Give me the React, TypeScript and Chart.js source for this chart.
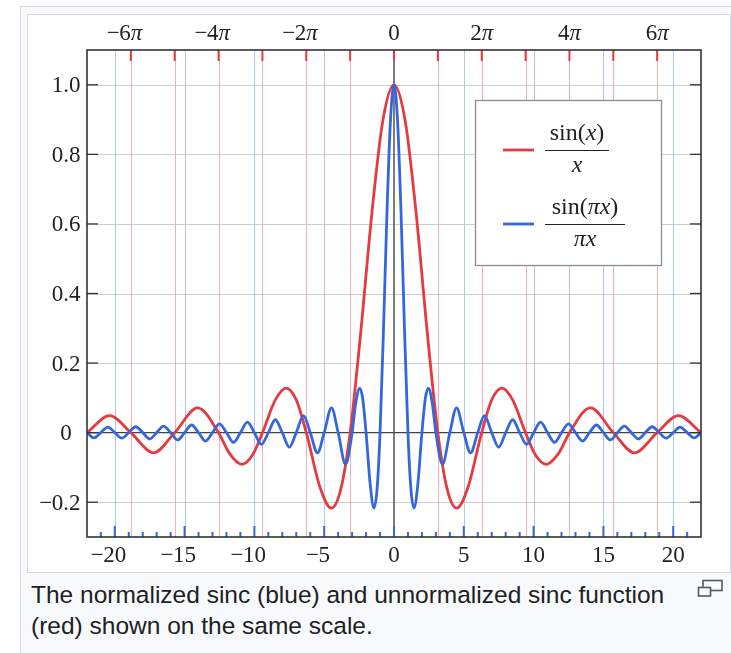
import React, { useEffect, useRef } from 'react';
import { Chart, registerables } from 'chart.js';

Chart.register(...registerables);

const X_MIN = -21.99;
const X_MAX = 21.99;
const Y_MIN = -0.3;
const Y_MAX = 1.1;

// unnormalized sinc: sin(x)/x
const redX = [-21.99, -20.37, -18.85, -17.22, -15.71, -14.07, -12.57, -11.8, -10.9, -10.1, -9.42, -8.5, -7.73, -7.0, -6.28, -5.3, -4.49, -3.8, -3.14, -2.4, -1.57, -0.8, 0, 0.8, 1.57, 2.4, 3.14, 3.8, 4.49, 5.3, 6.28, 7.0, 7.73, 8.5, 9.42, 10.1, 10.9, 11.8, 12.57, 14.07, 15.71, 17.22, 18.85, 20.37, 21.99];
const redY = [0, 0.049, 0, -0.058, 0, 0.071, 0, -0.059, -0.091, -0.062, 0, 0.094, 0.128, 0.094, 0, -0.157, -0.217, -0.161, 0, 0.281, 0.637, 0.897, 1, 0.897, 0.637, 0.281, 0, -0.161, -0.217, -0.157, 0, 0.094, 0.128, 0.094, 0, -0.062, -0.091, -0.059, 0, 0.071, 0, -0.058, 0, 0.049, 0];

// normalized sinc: sin(pi x)/(pi x)
const blueX = [-21.99, -21.5, -21, -20.5, -20, -19.5, -19, -18.5, -18, -17.5, -17, -16.5, -16, -15.5, -15, -14.5, -14, -13.5, -13, -12.5, -12, -11.5, -11, -10.5, -10, -9.5, -9, -8.5, -8, -7.5, -7, -6.48, -6, -5.48, -5, -4.48, -4, -3.47, -3, -2.75, -2.46, -2.25, -2, -1.7, -1.43, -1.2, -1, -0.75, -0.5, -0.25, 0, 0.25, 0.5, 0.75, 1, 1.2, 1.43, 1.7, 2, 2.25, 2.46, 2.75, 3, 3.47, 4, 4.48, 5, 5.48, 6, 6.48, 7, 7.5, 8, 8.5, 9, 9.5, 10, 10.5, 11, 11.5, 12, 12.5, 13, 13.5, 14, 14.5, 15, 15.5, 16, 16.5, 17, 17.5, 18, 18.5, 19, 19.5, 20, 20.5, 21, 21.5, 21.99];
const blueY = [0, -0.015, 0, 0.016, 0, -0.016, 0, 0.017, 0, -0.018, 0, 0.019, 0, -0.021, 0, 0.022, 0, -0.024, 0, 0.025, 0, -0.028, 0, 0.030, 0, -0.034, 0, 0.037, 0, -0.042, 0, 0.049, 0, -0.058, 0, 0.071, 0, -0.091, 0, 0.082, 0.128, 0.100, 0, -0.151, -0.217, -0.156, 0, 0.300, 0.637, 0.900, 1, 0.900, 0.637, 0.300, 0, -0.156, -0.217, -0.151, 0, 0.100, 0.128, 0.082, 0, -0.091, 0, 0.071, 0, -0.058, 0, 0.049, 0, -0.042, 0, 0.037, 0, -0.034, 0, 0.030, 0, -0.028, 0, 0.025, 0, -0.024, 0, 0.022, 0, -0.021, 0, 0.019, 0, -0.018, 0, 0.017, 0, -0.016, 0, 0.016, 0, -0.015, 0];

const yTickValues = [-0.2, 0, 0.2, 0.4, 0.6, 0.8, 1.0];
const yTickLabels = ['−0.2', '0', '0.2', '0.4', '0.6', '0.8', '1.0'];
const xTickValues = [-20, -15, -10, -5, 0, 5, 10, 15, 20];
const xTickLabels = ['−20', '−15', '−10', '−5', '0', '5', '10', '15', '20'];
const piTickMultiples = [-6, -4, -2, 0, 2, 4, 6];
const piTickLabels = ['−6π', '−4π', '−2π', '0', '2π', '4π', '6π'];
const blueGridValues = [-20, -15, -10, -5, 5, 10, 15, 20];
const redGridMultiples = [-6, -5, -4, -3, -2, -1, 1, 2, 3, 4, 5, 6];

const RED = '#e53a40';
const BLUE = '#3567dc';
const SERIF = '"Liberation Serif", "Times New Roman", serif';
const FS = 23;
const LFS = 24;

type Run = { t: string; i?: boolean };

function runsWidth(ctx: CanvasRenderingContext2D, runs: Run[], size: number) {
  let w = 0;
  for (const r of runs) {
    ctx.font = `${r.i ? 'italic ' : ''}${size}px ${SERIF}`;
    w += ctx.measureText(r.t).width;
  }
  return w;
}

function drawRuns(ctx: CanvasRenderingContext2D, runs: Run[], x: number, y: number, size: number) {
  ctx.textAlign = 'left';
  ctx.textBaseline = 'alphabetic';
  let cx = x;
  for (const r of runs) {
    ctx.font = `${r.i ? 'italic ' : ''}${size}px ${SERIF}`;
    ctx.fillText(r.t, cx, y);
    cx += ctx.measureText(r.t).width;
  }
}

// draws a tick label whose number part is centred on cx, with the minus sign hanging to the left
function drawTickLabel(ctx: CanvasRenderingContext2D, label: string, cx: number, baseline: number) {
  let s = label;
  const neg = s.startsWith('−');
  if (neg) s = s.slice(1);
  const runs: Run[] = [];
  if (s.endsWith('π')) {
    runs.push({ t: s.slice(0, -1) });
    runs.push({ t: 'π', i: true });
  } else runs.push({ t: s });
  const w = runsWidth(ctx, runs, FS);
  const start = cx - w / 2;
  drawRuns(ctx, runs, start, baseline, FS);
  if (neg) {
    ctx.font = `${FS}px ${SERIF}`;
    const mw = ctx.measureText('−').width;
    ctx.fillText('−', start - mw + 0.5, baseline);
  }
}

function line(ctx: CanvasRenderingContext2D, x1: number, y1: number, x2: number, y2: number) {
  ctx.beginPath();
  ctx.moveTo(x1, y1);
  ctx.lineTo(x2, y2);
  ctx.stroke();
}

const decor = {
  id: 'sincDecor',
  beforeDatasetsDraw(chart: any) {
    const { ctx, chartArea: a, scales } = chart;
    const xs = scales.x;
    const ys = scales.y;
    ctx.save();
    ctx.lineWidth = 1;
    ctx.strokeStyle = '#cdcdcd';
    for (const v of yTickValues) {
      if (v === 0) continue;
      const py = Math.round(ys.getPixelForValue(v)) + 0.5;
      line(ctx, a.left, py, a.right, py);
    }
    ctx.strokeStyle = '#f3b0b0';
    for (const k of redGridMultiples) {
      const px = Math.round(xs.getPixelForValue(k * Math.PI)) + 0.5;
      line(ctx, px, a.top, px, a.bottom);
    }
    ctx.strokeStyle = '#b3c4ef';
    for (const v of blueGridValues) {
      const px = Math.round(xs.getPixelForValue(v)) + 0.5;
      line(ctx, px, a.top, px, a.bottom);
    }
    ctx.strokeStyle = '#444';
    ctx.lineWidth = 1.4;
    const x0 = xs.getPixelForValue(0);
    const y0 = ys.getPixelForValue(0);
    line(ctx, x0, a.top, x0, a.bottom);
    line(ctx, a.left, y0, a.right, y0);
    ctx.restore();
  },
  afterDatasetsDraw(chart: any) {
    const { ctx, chartArea: a, scales } = chart;
    const xs = scales.x;
    const ys = scales.y;
    ctx.save();

    // top ticks (multiples of pi), red, inward
    ctx.strokeStyle = RED;
    ctx.lineWidth = 2;
    for (let k = -6; k <= 6; k++) {
      const px = xs.getPixelForValue(k * Math.PI);
      line(ctx, px, a.top, px, a.top + 11);
    }
    // bottom ticks (integers), blue, inward
    ctx.strokeStyle = BLUE;
    for (let v = -21; v <= 21; v++) {
      const px = xs.getPixelForValue(v);
      const len = v % 5 === 0 ? 11 : 5;
      line(ctx, px, a.bottom, px, a.bottom - len);
    }
    // left / right ticks
    ctx.strokeStyle = '#333';
    ctx.lineWidth = 1.3;
    for (const v of yTickValues) {
      const py = ys.getPixelForValue(v);
      line(ctx, a.left, py, a.left + 11, py);
      line(ctx, a.right - 11, py, a.right, py);
    }
    // frame
    ctx.strokeStyle = '#333';
    ctx.lineWidth = 1.6;
    ctx.strokeRect(a.left, a.top, a.right - a.left, a.bottom - a.top);

    // tick labels
    ctx.fillStyle = '#222';
    piTickMultiples.forEach((k, i) => {
      drawTickLabel(ctx, piTickLabels[i], xs.getPixelForValue(k * Math.PI), a.top - 10);
    });
    xTickValues.forEach((v, i) => {
      drawTickLabel(ctx, xTickLabels[i], xs.getPixelForValue(v), a.bottom + 25);
    });
    yTickValues.forEach((v, i) => {
      drawTickLabel(ctx, yTickLabels[i], a.left - 21, ys.getPixelForValue(v) + 7.5);
    });

    // legend
    const lx = a.right - 226;
    const ly = a.top + 50;
    const lw = 186;
    const lh = 165;
    ctx.fillStyle = '#fff';
    ctx.fillRect(lx, ly, lw, lh);
    ctx.strokeStyle = '#8c8c8c';
    ctx.lineWidth = 1.3;
    ctx.strokeRect(lx + 0.5, ly + 0.5, lw, lh);

    const items = [
      { color: RED, num: [{ t: 'sin(' }, { t: 'x', i: true }, { t: ')' }], den: [{ t: 'x', i: true }], bar: 64, y: 50 },
      { color: BLUE, num: [{ t: 'sin(' }, { t: 'πx', i: true }, { t: ')' }], den: [{ t: 'πx', i: true }], bar: 80, y: 124 },
    ];
    for (const it of items) {
      const yy = ly + it.y;
      ctx.strokeStyle = it.color;
      ctx.lineWidth = 2.8;
      line(ctx, lx + 28, yy, lx + 59, yy);
      const bx = lx + 70;
      ctx.strokeStyle = '#222';
      ctx.lineWidth = 1;
      line(ctx, bx, yy + 0.5, bx + it.bar, yy + 0.5);
      const cx = bx + it.bar / 2;
      ctx.fillStyle = '#222';
      const nw = runsWidth(ctx, it.num as Run[], LFS);
      drawRuns(ctx, it.num as Run[], cx - nw / 2, yy - 10, LFS);
      const dw = runsWidth(ctx, it.den as Run[], LFS);
      drawRuns(ctx, it.den as Run[], cx - dw / 2, yy + 22, LFS);
    }

    ctx.restore();
  },
};

export default function App() {
  const ref = useRef<HTMLCanvasElement>(null);

  useEffect(() => {
    if (!ref.current) return;
    const hidden = { display: false, drawTicks: false };
    const chart = new Chart(ref.current, {
      type: 'line',
      data: {
        datasets: [
          {
            label: 'sin(πx)/(πx)',
            data: blueX.map((x, i) => ({ x, y: blueY[i] })),
            borderColor: BLUE,
            borderWidth: 2.8,
            pointRadius: 0,
            fill: false,
            cubicInterpolationMode: 'monotone',
            xAxisID: 'x',
            yAxisID: 'y',
          },
          {
            label: 'sin(x)/x',
            data: redX.map((x, i) => ({ x, y: redY[i] })),
            borderColor: RED,
            borderWidth: 2.8,
            pointRadius: 0,
            fill: false,
            cubicInterpolationMode: 'monotone',
            xAxisID: 'x',
            yAxisID: 'y',
          },
        ],
      },
      options: {
        responsive: false,
        animation: false,
        devicePixelRatio: 1,
        events: [],
        layout: { padding: 0 },
        plugins: { legend: { display: false }, tooltip: { enabled: false } },
        scales: {
          x: {
            type: 'linear', position: 'bottom', min: X_MIN, max: X_MAX,
            grid: hidden, border: { display: false }, ticks: { display: false },
            afterFit: (s: any) => { s.height = 38; },
          },
          x2: {
            type: 'linear', position: 'top', min: X_MIN, max: X_MAX,
            grid: hidden, border: { display: false }, ticks: { display: false },
            afterFit: (s: any) => { s.height = 50; },
          },
          y: {
            type: 'linear', position: 'left', min: Y_MIN, max: Y_MAX,
            grid: hidden, border: { display: false }, ticks: { display: false },
            afterFit: (s: any) => { s.width = 87; },
          },
          y2: {
            type: 'linear', position: 'right', min: Y_MIN, max: Y_MAX,
            grid: hidden, border: { display: false }, ticks: { display: false },
            afterFit: (s: any) => { s.width = 30; },
          },
        },
      } as any,
      plugins: [decor],
    });
    return () => chart.destroy();
  }, []);

  return (
    <div style={{ position: 'absolute', left: 0, top: 0, width: 731, height: 653, overflow: 'hidden', background: '#fff' }}>
      <div style={{ position: 'absolute', left: 20, top: 6, width: 760, height: 720, background: '#f8f9fa', border: '1px solid #d5d8dc', boxSizing: 'border-box' }} />
      <div style={{ position: 'absolute', left: 27, top: 14, width: 704, height: 559, background: '#fff', border: '1px solid #d5d8dc', boxSizing: 'border-box' }} />
      <canvas ref={ref} width={731} height={575} style={{ position: 'absolute', left: 0, top: 0, width: 731, height: 575 }} />
      <div style={{ position: 'absolute', left: 31, top: 579, font: '24.5px "Liberation Sans", Arial, sans-serif', lineHeight: '31px', color: '#202122', whiteSpace: 'nowrap' }}>
        The normalized sinc (blue) and unnormalized sinc function
        <br />
        (red) shown on the same scale.
      </div>
      <svg width="28" height="20" style={{ position: 'absolute', left: 696, top: 578 }} viewBox="0 0 28 20">
        <rect x="7" y="2.5" width="19" height="10" fill="none" stroke="#54595d" strokeWidth="1.6" />
        <rect x="2.5" y="9.5" width="12" height="8.5" fill="#f8f9fa" stroke="#54595d" strokeWidth="1.6" />
      </svg>
    </div>
  );
}
